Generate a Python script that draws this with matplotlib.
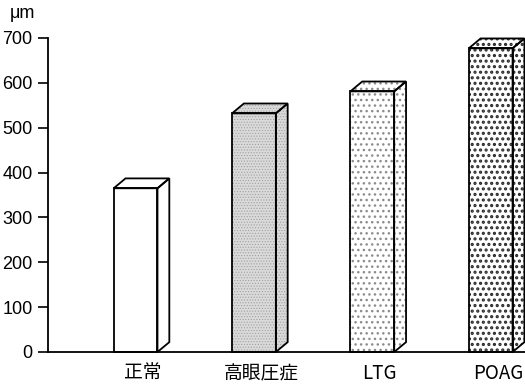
import matplotlib

matplotlib.use("Agg")
import matplotlib.pyplot as plt

# data
groups = ["正常", "高眼圧症", "LTG", "POAG"]
thickness_um = [365, 532, 581, 677]
face_colors = ["white", "#dadada", "white", "white"]
hatch_styles = [None, "......", "...", "..."]
hatch_colors = ["black", "#a0a0a0", "#8c8c8c", "#2a2a2a"]
hatch_widths = [1.0, 0.5, 1.0, 1.5]
y_ticks = [0, 100, 200, 300, 400, 500, 600, 700]

BAR_W = 0.37
DX, DY = 0.10, 22  # depth offset in data units
EDGE_LW = 1.3

plt.rcParams["font.family"] = ["Liberation Sans", "DejaVu Sans"]
plt.rcParams["hatch.linewidth"] = 1.0

fig = plt.figure(figsize=(5.25, 3.84), dpi=100)
ax = fig.add_axes([48 / 525, 32 / 384, 477 / 525, 314 / 384])

for i, (h, fc, hatch, hc, hw) in enumerate(
    zip(thickness_um, face_colors, hatch_styles, hatch_colors, hatch_widths)
):
    left, right = i - BAR_W / 2, i + BAR_W / 2
    side = [(right, 0), (right + DX, DY), (right + DX, h + DY), (right, h)]
    top = [(left, h), (left + DX, h + DY), (right + DX, h + DY), (right, h)]
    front = [(left, 0), (left, h), (right, h), (right, 0)]
    for poly in (front, side, top):
        xs, ys = zip(*poly)
        (patch,) = ax.fill(xs, ys, facecolor=fc, hatch=hatch, edgecolor=hc,
                           linewidth=0, clip_on=False, zorder=2)
        if hasattr(patch, "set_hatch_linewidth"):
            patch.set_hatch_linewidth(hw)
        ax.fill(xs, ys, fill=False, edgecolor="black",
                linewidth=EDGE_LW, clip_on=False, zorder=3,
                joinstyle="miter")

ax.set_xlim(-0.74, 3.29)
ax.set_ylim(0, 700)
ax.set_yticks(y_ticks)
ax.tick_params(axis="y", direction="out", length=7, width=1.2, pad=4,
               labelsize=13)
ax.set_xticks([i + 0.06 for i in range(len(groups))])
ax.set_xticklabels(groups, family=["Noto Sans CJK JP", "DejaVu Sans"],
                   fontsize=13.5)
ax.tick_params(axis="x", length=0, pad=8)
for side_name in ("top", "right"):
    ax.spines[side_name].set_visible(False)
for side_name in ("left", "bottom"):
    ax.spines[side_name].set_linewidth(1.3)

fig.text(10 / 525, 1 - 14 / 384, "μm", fontsize=13, va="center", ha="left")

fig.savefig("out.png", dpi=100)
